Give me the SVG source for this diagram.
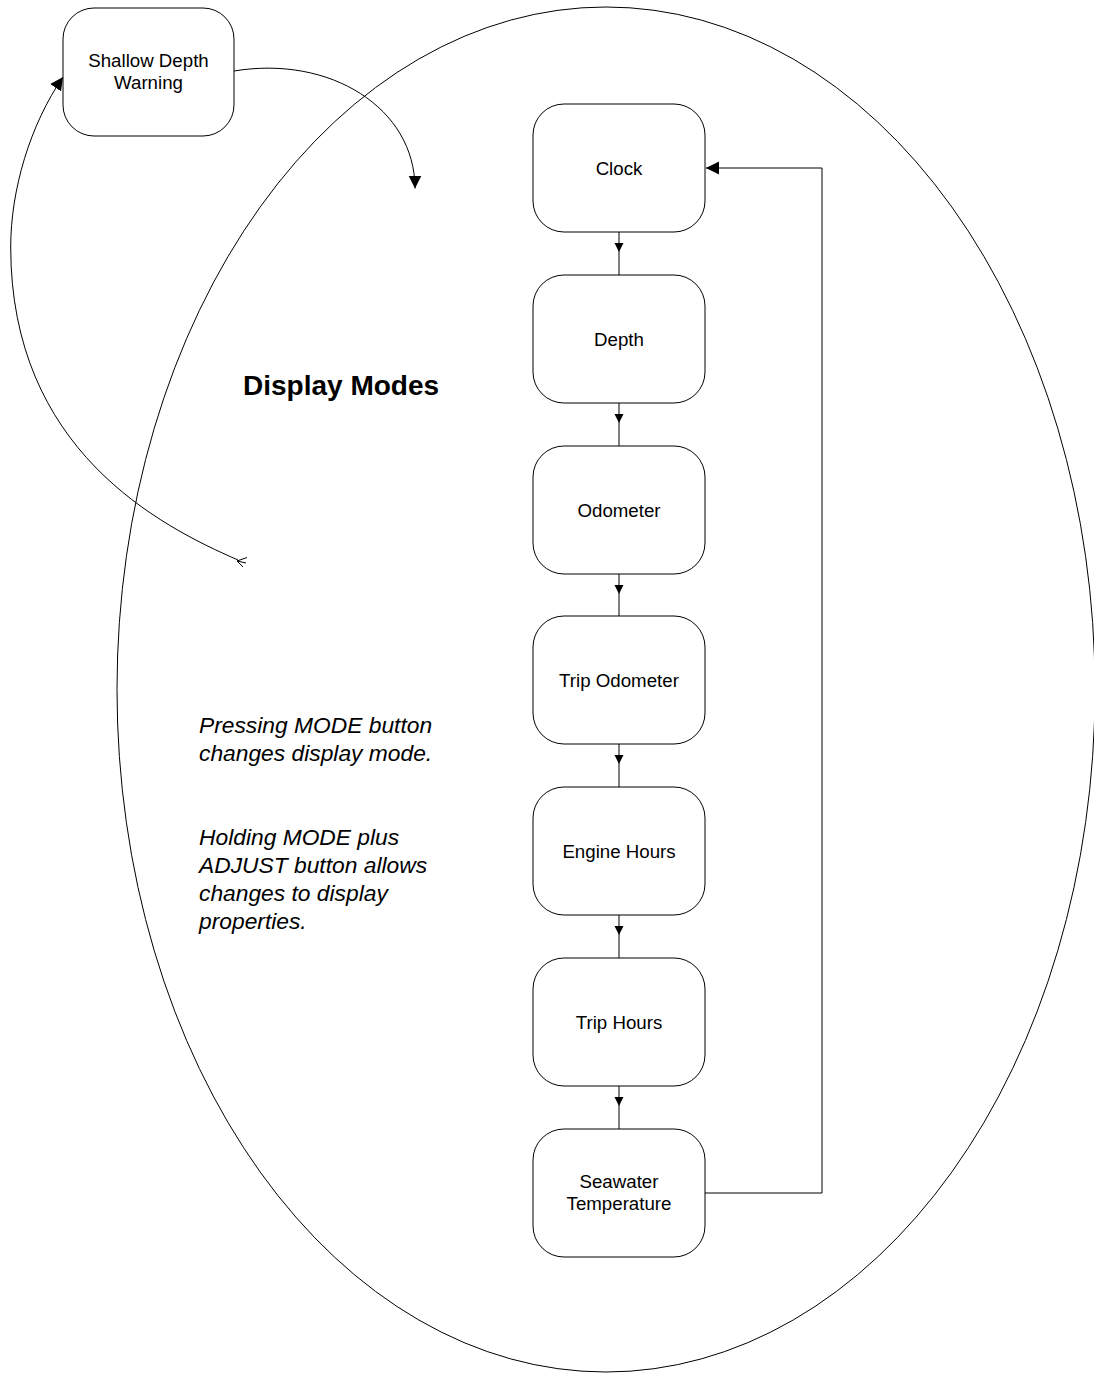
<svg xmlns="http://www.w3.org/2000/svg" width="1094" height="1374" viewBox="0 0 1094 1374">
  <style>
    .box { fill: #ffffff; stroke: #000000; stroke-width: 1; }
    .lbl { font-family: "Liberation Sans", Arial, sans-serif; font-size: 18.7px; fill: #000000; text-anchor: middle; }
    .title { font-family: "Liberation Sans", Arial, sans-serif; font-size: 28px; font-weight: bold; fill: #000000; }
    .note { font-family: "Liberation Sans", Arial, sans-serif; font-size: 22.8px; font-style: italic; fill: #000000; }
    .wire { fill: none; stroke: #000000; stroke-width: 1; }
  </style>
  <defs>
    <marker id="arrowSmall" markerUnits="userSpaceOnUse" markerWidth="10" markerHeight="10" refX="9" refY="4.5" orient="auto" viewBox="0 0 10 9">
      <path d="M0,0 L9,4.5 L0,9 Z" fill="#000000"/>
    </marker>
    <marker id="arrowLarge" markerUnits="userSpaceOnUse" markerWidth="14" markerHeight="14" refX="13" refY="6.5" orient="auto" viewBox="0 0 14 13">
      <path d="M0,0 L13,6.5 L0,13 Z" fill="#000000"/>
    </marker>
  </defs>

  <rect width="1094" height="1374" fill="#ffffff"/>

  <!-- display modes boundary -->
  <ellipse id="display-modes-region" cx="606" cy="689.5" rx="489" ry="682.5" fill="none" stroke="#000000" stroke-width="1"/>
  <text class="title" x="243" y="395">Display Modes</text>

  <!-- explanatory notes -->
  <g id="notes">
    <text class="note" x="199" y="733">Pressing MODE button</text>
    <text class="note" x="199" y="761">changes display mode.</text>
    <text class="note" x="199" y="845">Holding MODE plus</text>
    <text class="note" x="199" y="873">ADJUST button allows</text>
    <text class="note" x="199" y="901">changes to display</text>
    <text class="note" x="199" y="929">properties.</text>
  </g>

  <!-- connectors -->
  <g id="connectors">
    <!-- warning -> display modes -->
    <path class="wire" d="M234,71 C330,55 415,108 415,188.5" marker-end="url(#arrowLarge)"/>
    <!-- display modes -> warning -->
    <path class="wire" d="M238,560 C160,526 10.7,450 10.7,247 C10.7,190 30,125 63,77" marker-end="url(#arrowLarge)"/>
    <g class="wire">
      <path d="M237,561 L247,557.5"/>
      <path d="M237,561 L246,563"/>
      <path d="M237,561 L243,567"/>
    </g>
    <!-- mode cycle -->
    <path class="wire" d="M619,232 V252" marker-end="url(#arrowSmall)"/>
    <path class="wire" d="M619,252 V275"/>
    <path class="wire" d="M619,403 V423" marker-end="url(#arrowSmall)"/>
    <path class="wire" d="M619,423 V446"/>
    <path class="wire" d="M619,574 V594" marker-end="url(#arrowSmall)"/>
    <path class="wire" d="M619,594 V616"/>
    <path class="wire" d="M619,744 V764" marker-end="url(#arrowSmall)"/>
    <path class="wire" d="M619,764 V787"/>
    <path class="wire" d="M619,915 V935" marker-end="url(#arrowSmall)"/>
    <path class="wire" d="M619,935 V958"/>
    <path class="wire" d="M619,1086 V1106" marker-end="url(#arrowSmall)"/>
    <path class="wire" d="M619,1106 V1129"/>
    <!-- wrap back to clock -->
    <path class="wire" d="M705,1193 H822 V168 H706" marker-end="url(#arrowLarge)"/>
  </g>

  <!-- nodes -->
  <g id="shallow-depth-warning">
    <rect class="box" x="63" y="8" width="171" height="128" rx="31" ry="31"/>
    <text class="lbl" x="148.5" y="67">Shallow Depth</text>
    <text class="lbl" x="148.5" y="89">Warning</text>
  </g>
  <g id="clock">
    <rect class="box" x="533" y="104" width="172" height="128" rx="31" ry="31"/>
    <text class="lbl" x="619" y="174.7">Clock</text>
  </g>
  <g id="depth">
    <rect class="box" x="533" y="275" width="172" height="128" rx="31" ry="31"/>
    <text class="lbl" x="619" y="345.7">Depth</text>
  </g>
  <g id="odometer">
    <rect class="box" x="533" y="446" width="172" height="128" rx="31" ry="31"/>
    <text class="lbl" x="619" y="516.7">Odometer</text>
  </g>
  <g id="trip-odometer">
    <rect class="box" x="533" y="616" width="172" height="128" rx="31" ry="31"/>
    <text class="lbl" x="619" y="686.7">Trip Odometer</text>
  </g>
  <g id="engine-hours">
    <rect class="box" x="533" y="787" width="172" height="128" rx="31" ry="31"/>
    <text class="lbl" x="619" y="857.7">Engine Hours</text>
  </g>
  <g id="trip-hours">
    <rect class="box" x="533" y="958" width="172" height="128" rx="31" ry="31"/>
    <text class="lbl" x="619" y="1028.7">Trip Hours</text>
  </g>
  <g id="seawater-temperature">
    <rect class="box" x="533" y="1129" width="172" height="128" rx="31" ry="31"/>
    <text class="lbl" x="619" y="1188">Seawater</text>
    <text class="lbl" x="619" y="1210">Temperature</text>
  </g>
</svg>
